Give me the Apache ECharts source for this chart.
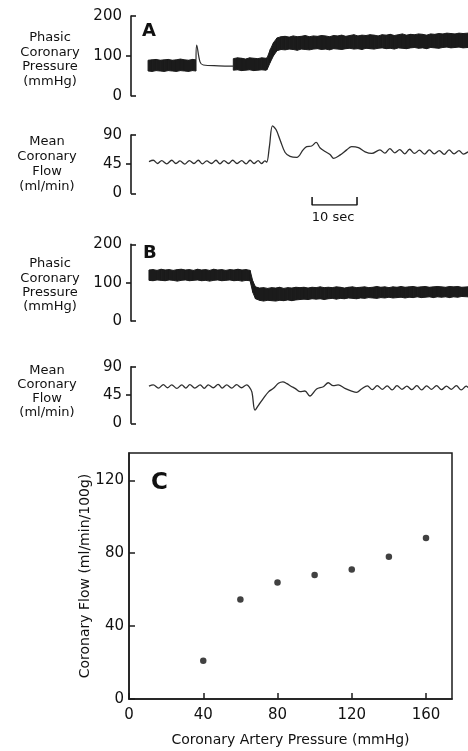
<!DOCTYPE html>
<html><head><meta charset="utf-8">
<script src="https://cdn.jsdelivr.net/npm/echarts@6/dist/echarts.min.js"></script>
<style>html,body{margin:0;padding:0;background:#fff}#c{width:468px;height:751px}</style>
</head><body><div id="c"></div>
<script>
// ---- Data (time in seconds, pressure mmHg, flow ml/min) ----
// Panel A: phasic pressure envelope [t, low, high]
const aPressureBand1 = [[3.8,62,89],[4.7,61,90],[5.6,63,91],[6.5,62,89],[7.4,61,90],[8.3,63,91],[9.2,62,89],[10.1,61,90],[11.0,63,92],[11.9,62,90],[12.8,61,89],[13.7,63,91],[14.47,62,90]];
const aPressureGap = [[14.47,90],[14.62,127],[15.36,85],[16.09,77],[19.5,75],[22.77,74]];
const aPressureBand2 = [[22.77,64,93],[23.7,65,95],[24.6,63,94],[25.5,64,92],[26.4,65,95],[27.3,63,94],[28.2,64,93],[29.1,65,95],[30.0,64,94],[30.3,66,95],[31.0,84,116],[31.7,100,133],[32.5,113,145],[33.4,116,148],[34.3,115,149],[35.2,117,147],[36.1,116,150],[37.0,114,148],[37.9,117,149],[38.8,116,151],[39.7,115,148],[40.6,117,150],[41.5,118,149],[42.4,116,151],[43.3,117,150],[44.2,115,148],[45.1,118,151],[46.0,117,150],[46.9,116,152],[47.8,118,149],[48.7,119,151],[49.6,117,153],[50.5,118,150],[51.4,116,152],[52.3,119,151],[53.2,118,153],[54.1,117,152],[55.0,119,150],[55.9,120,153],[56.8,118,152],[57.7,119,154],[58.6,117,151],[59.5,120,153],[60.4,119,155],[61.3,118,152],[62.2,120,154],[63.1,121,153],[64.0,119,155],[64.9,120,154],[65.8,118,152],[66.7,121,155],[67.6,120,154],[68.5,119,156],[69.4,121,155],[70.3,122,157],[71.2,120,156],[72.1,121,155],[73.0,122,157],[73.9,120,156],[75.0,121,157]];
// Panel A: mean flow [t, flow]
const aFlow = [[4.0,49],[4.96,51],[5.9,46],[6.83,50.5],[7.95,45.5],[9.06,51],[10.0,46],[10.9,50],[11.95,45],[12.99,50.5],[14.0,46],[14.98,51],[15.9,45.5],[16.85,50],[17.9,46],[18.92,51],[19.8,45.5],[20.7,50.5],[21.7,46],[22.63,51],[23.6,46],[24.63,50.5],[25.6,45.5],[26.5,51],[27.4,46],[28.3,50.5],[29.05,46],[29.8,50],[30.2,48],[30.8,72],[31.5,104],[32.3,98],[33.2,82],[34.3,63],[35.4,57],[36.9,55.5],[38.3,67],[39.1,72],[40.2,73],[41.2,78.5],[42.1,70],[43.2,64.5],[44.3,60],[45.1,54],[46.5,59],[48.0,67],[49.1,72],[50.6,70.5],[52.1,64],[53.6,61.5],[55.4,67],[56.5,62],[57.6,69],[58.7,62.5],[59.8,67.5],[60.9,61],[62.0,68],[63.1,61.5],[64.2,66.5],[65.3,60.5],[66.4,67],[67.5,61],[68.6,66],[69.7,60],[70.8,67],[71.9,61],[73.0,66],[74.0,60.5],[75.0,64]];
// Panel B: phasic pressure envelope [t, low, high]
const bPressureBand = [[4.0,106,133],[4.9,105,134],[5.8,107,132],[6.7,106,135],[7.6,105,133],[8.5,107,134],[9.4,106,132],[10.3,104,134],[11.2,106,135],[12.1,107,133],[13.0,105,134],[13.9,106,132],[14.8,107,135],[15.7,105,133],[16.6,106,134],[17.5,104,132],[18.4,106,135],[19.3,107,133],[20.2,105,134],[21.1,106,132],[22.0,107,134],[22.9,105,133],[23.8,106,135],[24.7,104,133],[25.6,106,134],[26.5,105,132],[27.1,75,104],[27.7,58,89],[28.6,54,86],[29.5,52,87],[30.4,54,85],[31.3,53,87],[32.2,52,86],[33.1,54,88],[34.0,53,85],[34.9,55,87],[35.8,53,86],[36.7,55,88],[37.6,56,87],[38.5,57,88],[39.4,56,86],[40.3,58,88],[41.2,57,87],[42.1,58,89],[43.0,56,87],[43.9,58,88],[44.8,59,87],[45.7,57,89],[46.6,59,88],[47.5,58,86],[48.4,60,88],[49.3,59,89],[50.2,58,87],[51.1,60,88],[52.0,59,89],[52.9,61,87],[53.8,60,88],[54.7,59,90],[55.6,61,88],[56.5,60,89],[57.4,62,87],[58.3,60,89],[59.2,61,88],[60.1,62,90],[61.0,60,88],[61.9,62,89],[62.8,61,90],[63.7,63,88],[64.6,61,89],[65.5,62,90],[66.4,63,88],[67.3,61,89],[68.2,63,90],[69.1,62,89],[70.0,63,88],[70.9,61,90],[71.8,63,89],[72.7,62,90],[73.6,64,88],[75.0,63,89]];
// Panel B: mean flow [t, flow]
const bFlow = [[4.0,59],[4.96,61],[6.1,56],[7.2,61.5],[8.1,56.5],[9.06,61],[10.2,55.5],[11.3,61],[12.2,56],[13.1,61.5],[14.2,56],[15.4,61],[16.3,55.5],[17.2,61],[18.3,56.5],[19.4,62],[20.3,56],[21.3,61],[22.4,56],[23.5,61.5],[24.6,56.5],[25.75,61],[26.3,58],[26.9,50],[27.6,21],[28.4,29],[29.5,40],[30.6,50],[31.7,55.6],[32.8,63.6],[33.8,66],[34.7,63],[35.6,59],[36.5,55.6],[37.6,50.3],[38.7,51.4],[39.8,43.4],[41.3,54.5],[42.8,58.2],[43.9,64.5],[45.0,59.8],[46.1,61],[47.6,55.6],[49.1,51.3],[50.2,49.3],[51.3,54.5],[52.6,59.5],[53.7,53.5],[54.8,60],[55.9,54],[57.0,59.5],[58.1,53],[59.2,60],[60.3,54],[61.4,59],[62.5,53.5],[63.6,60],[64.7,53],[65.8,59.5],[66.9,54],[68.0,60],[69.1,53.5],[70.2,59],[71.3,54],[72.4,60],[73.5,53],[74.6,59],[75.0,57]];
// 10-second scale bar [t, level]
const scaleBar = [[40.3,1],[40.3,0],[50.3,0],[50.3,1]];
// Panel C: autoregulation points
const cArteryPressure = [40,60,80,100,120,140,160];
const cCoronaryFlow = [21,54.6,64,68,71,78,88.4];
// Axis ticks
const pressureTicks = {min:0, max:200, interval:100, outer:[100], inner:[0,200]};
const flowTicks = {min:0, max:90, interval:45, outer:[45], inner:[0,90]};
const timeRange = {min:0, max:75};

// ---- Chart ----
const FONT = 'DejaVu Sans';
const INK = '#1b1b1b';
const TXT = '#111111';
const chart = echarts.init(document.getElementById('c'), null, {renderer:'canvas'});

const gridDefs = [
  {left:131, top:16, width:337, height:79.7},   // 0 A pressure
  {left:131, top:135, width:337, height:58.3},  // 1 A flow
  {left:131, top:197, width:337, height:8},     // 2 scale bar
  {left:131, top:244.3, width:337, height:76.7},// 3 B pressure
  {left:131, top:366.7, width:337, height:56.6},// 4 B flow
  {left:129, top:453, width:323, height:246, show:true, borderColor:INK, borderWidth:1.5} // 5 C
];

const xAxes = [0,1,2,3,4].map(i => ({type:'value', gridIndex:i, min:timeRange.min, max:timeRange.max, show:false}));
xAxes.push({
  type:'value', gridIndex:5, min:0, max:174, interval:40,
  axisLine:{show:true, lineStyle:{color:INK, width:1.5}},
  axisTick:{show:true, inside:true, length:6, lineStyle:{color:INK, width:1.5}},
  axisLabel:{color:TXT, fontSize:15, fontFamily:FONT, margin:9, showMaxLabel:false},
  splitLine:{show:false},
  name:'Coronary Artery Pressure (mmHg)', nameLocation:'middle', nameGap:34, nameMoveOverlap:false,
  nameTextStyle:{color:TXT, fontSize:14, fontFamily:FONT}
});

const yAxes = [];
function traceAxes(gi, t) {
  yAxes.push({
    type:'value', gridIndex:gi, position:'left', min:t.min, max:t.max, interval:t.interval,
    axisLine:{show:true, lineStyle:{color:INK, width:1.6}},
    axisTick:{show:true, inside:false, length:5, customValues:t.outer, lineStyle:{color:INK, width:1.6}},
    axisLabel:{color:TXT, fontSize:15, fontFamily:FONT, margin:9},
    splitLine:{show:false}
  });
  const main = yAxes.length - 1;
  yAxes.push({
    type:'value', gridIndex:gi, position:'left', min:t.min, max:t.max, interval:t.interval,
    axisLine:{show:false},
    axisTick:{show:true, inside:true, length:5, customValues:t.inner, lineStyle:{color:INK, width:1.6}},
    axisLabel:{show:false}, splitLine:{show:false}
  });
  return main;
}
const yAP = traceAxes(0, pressureTicks);
const yAF = traceAxes(1, flowTicks);
yAxes.push({type:'value', gridIndex:2, min:0, max:1, show:false});
const yScale = yAxes.length - 1;
const yBP = traceAxes(3, pressureTicks);
const yBF = traceAxes(4, flowTicks);
yAxes.push({
  type:'value', gridIndex:5, min:0, max:135, interval:40,
  axisLine:{show:true, lineStyle:{color:INK, width:1.5}},
  axisTick:{show:true, inside:true, length:6, lineStyle:{color:INK, width:1.5}},
  axisLabel:{color:TXT, fontSize:15, fontFamily:FONT, margin:5, showMaxLabel:false},
  splitLine:{show:false},
  name:'Coronary Flow (ml/min/100g)', nameLocation:'middle', nameGap:37, nameMoveOverlap:false,
  nameTextStyle:{color:TXT, fontSize:14, fontFamily:FONT}
});
const yC = yAxes.length - 1;

const series = [];
// Phasic pressure envelope: quad between consecutive samples, low..high
function band(data, xi, yi) {
  series.push({type:'custom', xAxisIndex:xi, yAxisIndex:yi, silent:true, clip:false,
    data:data, encode:{x:0, y:[1,2]},
    renderItem:function(params, api) {
      const i = params.dataIndexInside;
      if (i === 0) return null;
      const j = i - 1;
      const a = api.coord([api.value(0, j), api.value(1, j)]);
      const b = api.coord([api.value(0, j), api.value(2, j)]);
      const c = api.coord([api.value(0), api.value(2)]);
      const d = api.coord([api.value(0), api.value(1)]);
      return {type:'polygon', shape:{points:[a, b, c, d]},
        style:{fill:INK, stroke:INK, lineWidth:1}};
    }
  });
}
function trace(data, xi, yi, w) {
  series.push({type:'line', xAxisIndex:xi, yAxisIndex:yi, symbol:'none', silent:true, smooth:0.35,
    clip:false, data:data, lineStyle:{color:'#2e2e2e', width:w}});
}
band(aPressureBand1, 0, yAP);
band(aPressureBand2, 0, yAP);
trace(aPressureGap, 0, yAP, 1.2);
trace(aFlow, 1, yAF, 1.3);
series.push({type:'line', xAxisIndex:2, yAxisIndex:yScale, symbol:'none', silent:true,
  data:scaleBar, lineStyle:{color:INK, width:1.6}});
band(bPressureBand, 3, yBP);
trace(bFlow, 4, yBF, 1.3);
series.push({type:'scatter', xAxisIndex:5, yAxisIndex:yC, symbolSize:6.5,
  itemStyle:{color:'#111'}, data:cArteryPressure.map((p,i) => [p, cCoronaryFlow[i]])});

function txt(s, x, y, size, bold, align) {
  return {type:'text', x:x, y:y, silent:true, style:{text:s, fill:TXT,
    font:(bold ? 'bold ' : '') + size + 'px "' + FONT + '"',
    align:align || 'center', verticalAlign:'middle',
    textAlign:align || 'center', textVerticalAlign:'middle'}};
}
const graphics = [
  txt('Phasic', 50, 38, 13), txt('Coronary', 50, 53, 13), txt('Pressure', 50, 67, 13), txt('(mmHg)', 50, 82, 13),
  txt('Mean', 47, 142, 13), txt('Coronary', 47, 157, 13), txt('Flow', 47, 172, 13), txt('(ml/min)', 47, 187, 13),
  txt('Phasic', 50, 264, 13), txt('Coronary', 50, 279, 13), txt('Pressure', 50, 293, 13), txt('(mmHg)', 50, 307, 13),
  txt('Mean', 47, 371, 13), txt('Coronary', 47, 385, 13), txt('Flow', 47, 399, 13), txt('(ml/min)', 47, 413, 13),
  txt('A', 142, 31, 18, true, 'left'), txt('B', 143, 253.5, 18, true, 'left'), txt('C', 151, 483, 23, true, 'left'),
  txt('10 sec', 333, 218, 13)
];

chart.setOption({
  animation:false,
  backgroundColor:'#fff',
  grid:gridDefs,
  xAxis:xAxes,
  yAxis:yAxes,
  series:series,
  graphic:{elements:graphics}
});
</script></body></html>
